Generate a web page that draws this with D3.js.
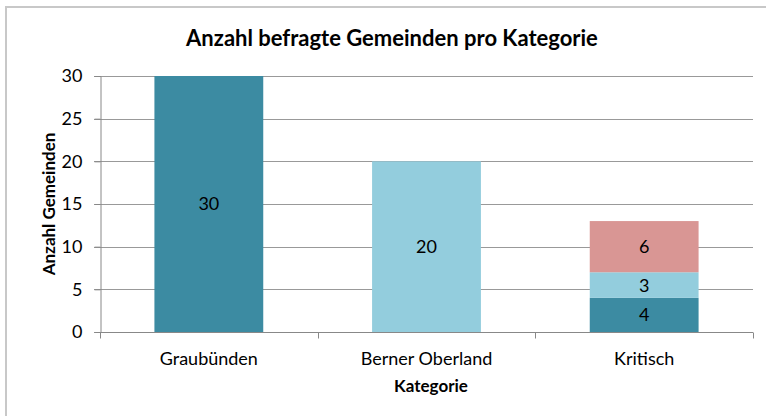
<!DOCTYPE html>
<html>
<head>
<meta charset="utf-8">
<script src="https://cdn.jsdelivr.net/npm/d3@7"></script>
<style>
  body { margin: 0; background: #fff; }
  svg { display: block; font-family: Lato, "Open Sans", sans-serif; }
</style>
</head>
<body>
<svg id="chart" width="766" height="416"></svg>
<script>
// categories and stacked series
var categories = ["Graubünden", "Berner Oberland", "Kritisch"];
var seriesA = [30, 0, 4];   // dark teal
var seriesB = [0, 20, 3];   // light blue
var seriesC = [0, 0, 6];    // pink
var yTicks = [0, 5, 10, 15, 20, 25, 30];

var svg = d3.select("#chart");
var colors = ["#3C8BA2", "#93CDDD", "#D99694"];

// chart frame
svg.append("rect")
    .attr("x", 6).attr("y", 7)
    .attr("width", 780).attr("height", 430)
    .attr("fill", "#fff")
    .attr("stroke", "#c8c8c8")
    .attr("stroke-width", 2);

var pLeft = 100, pRight = 753, pTop = 76, pBottom = 332;

var x = d3.scaleBand()
    .domain(categories)
    .range([pLeft, pRight])
    .paddingInner(0.5)
    .paddingOuter(0.25);

var y = d3.scaleLinear()
    .domain([0, 30])
    .range([pBottom, pTop]);

// gridlines
svg.append("g")
    .selectAll("line")
    .data(yTicks)
    .enter()
    .append("line")
    .attr("x1", pLeft - 6)
    .attr("x2", pRight)
    .attr("y1", function(d){ return Math.round(y(d)) + 0.5; })
    .attr("y2", function(d){ return Math.round(y(d)) + 0.5; })
    .attr("stroke", "#999")
    .attr("stroke-width", 1);

// stacked bars
var rows = categories.map(function(c, i){
    return {cat: c, a: seriesA[i], b: seriesB[i], c: seriesC[i]};
});
var stack = d3.stack().keys(["a", "b", "c"]);
var layers = stack(rows);

var groups = svg.append("g")
    .selectAll("g")
    .data(layers)
    .enter()
    .append("g")
    .attr("fill", function(d, i){ return colors[i]; });

groups.selectAll("rect")
    .data(function(d){ return d.filter(function(s){ return s[1] - s[0] > 0; }); })
    .enter()
    .append("rect")
    .attr("x", function(d){ return x(d.data.cat); })
    .attr("y", function(d){ return y(d[1]); })
    .attr("width", x.bandwidth())
    .attr("height", function(d){ return y(d[0]) - y(d[1]); });

groups.selectAll("text")
    .data(function(d){ return d.filter(function(s){ return s[1] - s[0] > 0; }); })
    .enter()
    .append("text")
    .attr("x", function(d){ return x(d.data.cat) + x.bandwidth() / 2; })
    .attr("y", function(d){ return (y(d[0]) + y(d[1])) / 2; })
    .attr("dy", "0.36em")
    .attr("text-anchor", "middle")
    .attr("fill", "#000")
    .attr("font-size", "18px")
    .text(function(d){ return d[1] - d[0]; });

// y axis
var yAxis = svg.append("g")
    .attr("transform", "translate(" + (pLeft + 0.5) + ",0)")
    .call(d3.axisLeft(y).tickValues(yTicks).tickSize(6).tickPadding(12));
yAxis.selectAll("line").attr("stroke", "#888");
yAxis.select(".domain").attr("stroke", "#888");
yAxis.selectAll("text")
    .attr("font-family", "Lato, 'Open Sans', sans-serif")
    .attr("font-size", "18px")
    .attr("fill", "#000");

// x axis
var xAxisG = svg.append("g")
    .attr("transform", "translate(0," + (pBottom + 0.5) + ")");
xAxisG.append("line")
    .attr("x1", pLeft).attr("x2", pRight)
    .attr("stroke", "#888");
var bounds = [pLeft, pLeft + (pRight - pLeft) / 3, pLeft + 2 * (pRight - pLeft) / 3, pRight];
xAxisG.selectAll("line.tick")
    .data(bounds)
    .enter()
    .append("line")
    .attr("class", "tick")
    .attr("x1", function(d){ return Math.round(d) + 0.5; })
    .attr("x2", function(d){ return Math.round(d) + 0.5; })
    .attr("y1", 0).attr("y2", 6)
    .attr("stroke", "#888");
xAxisG.selectAll("text")
    .data(categories)
    .enter()
    .append("text")
    .attr("x", function(d){ return x(d) + x.bandwidth() / 2; })
    .attr("y", 32)
    .attr("text-anchor", "middle")
    .attr("font-size", "18px")
    .attr("fill", "#000")
    .text(function(d){ return d; });

// titles
svg.append("text")
    .attr("x", 392)
    .attr("y", 46)
    .attr("text-anchor", "middle")
    .attr("font-size", "22px")
    .attr("font-weight", "bold")
    .text("Anzahl befragte Gemeinden pro Kategorie");

svg.append("text")
    .attr("x", 431)
    .attr("y", 392)
    .attr("text-anchor", "middle")
    .attr("font-size", "17px")
    .attr("font-weight", "bold")
    .text("Kategorie");

svg.append("text")
    .attr("transform", "translate(55," + ((pTop + pBottom) / 2) + ") rotate(-90)")
    .attr("text-anchor", "middle")
    .attr("font-size", "17px")
    .attr("font-weight", "bold")
    .text("Anzahl Gemeinden");
</script>
</body>
</html>
